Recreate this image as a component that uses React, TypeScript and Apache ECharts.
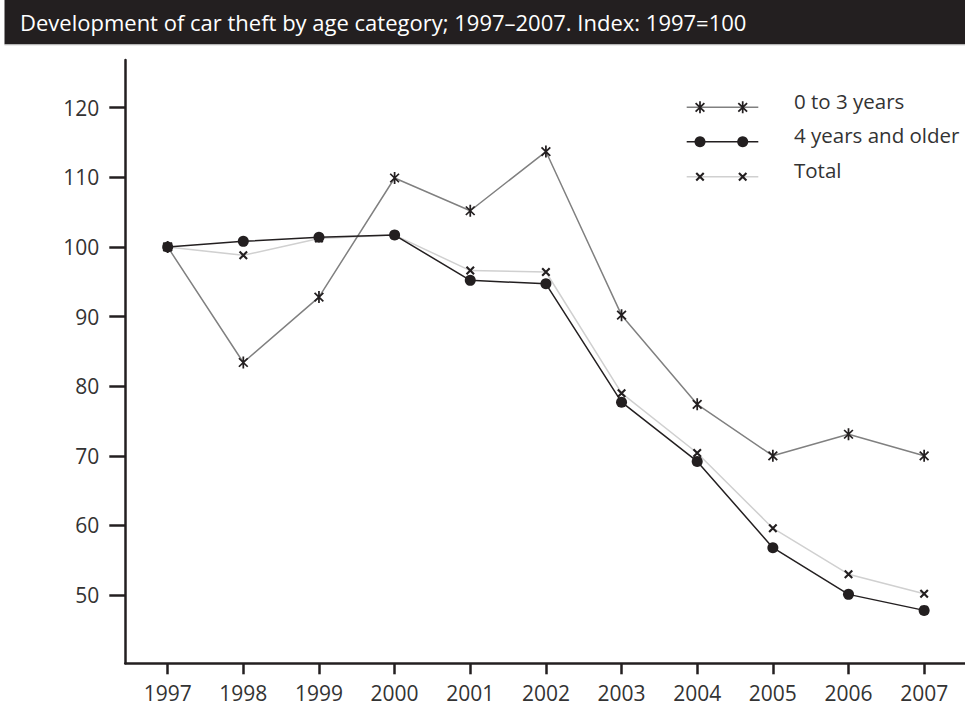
import React, { useEffect, useRef } from "react";
import * as echarts from "echarts";

const years = [1997, 1998, 1999, 2000, 2001, 2002, 2003, 2004, 2005, 2006, 2007];
const young = [100, 83.4, 92.8, 109.9, 105.2, 113.7, 90.2, 77.4, 70.0, 73.1, 70.0];
const older = [100, 100.8, 101.4, 101.7, 95.2, 94.7, 77.7, 69.2, 56.8, 50.1, 47.8];
const total = [100, 98.8, 101.2, 101.7, 96.6, 96.4, 79.0, 70.4, 59.6, 53.0, 50.2];
const yTicks = [50, 60, 70, 80, 90, 100, 110, 120];
const seriesNames = ["0 to 3 years", "4 years and older", "Total"];
const titleText = "Development of car theft by age category; 1997\u20132007. Index: 1997=100";

const STAR =
  "M43 0 L57 0 L57 100 L43 100 Z M19.59 9.69 L90.31 80.41 L80.41 90.31 L9.69 19.59 Z M90.31 19.59 L19.59 90.31 L9.69 80.41 L80.41 9.69 Z";
const CROSS =
  "M21.71 7.57 L92.43 78.29 L78.29 92.43 L7.57 21.71 Z M92.43 21.71 L21.71 92.43 L7.57 78.29 L78.29 7.57 Z";

const DARK = "#231f20";
const FONT = "'Open Sans', 'Noto Sans', sans-serif";

export default function App() {
  const ref = useRef<HTMLDivElement>(null);
  useEffect(() => {
    if (!ref.current) return;
    echarts.graphic.registerShape("legendStar", echarts.graphic.extendPath(STAR, {}));
    echarts.graphic.registerShape("legendCross", echarts.graphic.extendPath(CROSS, {}));
    const chart = echarts.init(ref.current, undefined, { renderer: "svg" });
    const pairs = (vals: number[]) => years.map((y, i) => [y, vals[i]]);

    const rowY = [107.3, 141.7, 176.7];
    const mx = [700, 742.7];
    const lineColors = ["#808080", DARK, "#d0d0d0"];
    const legendGraphics: any[] = [];
    rowY.forEach((y, r) => {
      legendGraphics.push({
        type: "line",
        z: 5,
        shape: { x1: 686.7, y1: y, x2: 758.3, y2: y },
        style: { stroke: lineColors[r], lineWidth: 1.5 },
        silent: true,
      });
      mx.forEach((x) => {
        if (r === 0) {
          const sx = 10 / 80.62, sy = 12 / 100;
          legendGraphics.push({ type: "legendStar", z: 6, x: x - 50 * sx, y: y - 50 * sy, scaleX: sx, scaleY: sy, style: { fill: DARK }, silent: true });
        } else if (r === 1) {
          legendGraphics.push({ type: "circle", z: 6, shape: { cx: x, cy: y, r: 5.5 }, style: { fill: DARK }, silent: true });
        } else {
          const s = 9 / 84.86;
          legendGraphics.push({ type: "legendCross", z: 6, x: x - 50 * s, y: y - 50 * s, scaleX: s, scaleY: s, style: { fill: DARK }, silent: true });
        }
      });
    });

    chart.setOption({
      animation: false,
      title: {
        text: titleText,
        left: 20,
        top: 9,
        padding: 0,
        textStyle: { color: "#ffffff", fontSize: 22, fontWeight: "normal", fontFamily: FONT, lineHeight: 26 },
        z: 10,
      },
      legend: {
        data: seriesNames,
        orient: "vertical",
        left: 779,
        top: 89,
        itemWidth: 10,
        itemHeight: 24,
        itemGap: 10.3,
        padding: 0,
        icon: "rect",
        itemStyle: { opacity: 0 },
        selectedMode: false,
        textStyle: { fontSize: 20.5, fontFamily: FONT, color: "#333333", lineHeight: 24 },
      },
      graphic: [
        { type: "rect", z: 1, shape: { x: 4.5, y: 0, width: 961, height: 44.3 }, style: { fill: DARK }, silent: true },
        { type: "rect", z: 1, shape: { x: 4.5, y: 44.3, width: 961, height: 1 }, style: { fill: "#b0b0b0" }, silent: true },
        ...legendGraphics,
      ],
      grid: { left: 125.3, right: 0, top: 60, bottom: 52.7, containLabel: false },
      xAxis: {
        type: "value",
        min: 1996.44,
        max: 2007.54,
        splitLine: { show: false },
        axisLine: { show: true, lineStyle: { color: DARK, width: 2.5 } },
        axisTick: { show: true, length: 11, customValues: years, lineStyle: { color: DARK, width: 2.5 } },
        axisLabel: {
          customValues: years,
          margin: 19,
          fontSize: 21,
          fontFamily: FONT,
          color: "#333333",
          formatter: (v: number) => String(v),
        },
      },
      yAxis: {
        type: "value",
        min: 40.2,
        max: 126.85,
        splitLine: { show: false },
        axisLine: { show: true, lineStyle: { color: DARK, width: 2.5 } },
        axisTick: { show: true, length: 16, customValues: yTicks, lineStyle: { color: DARK, width: 2.5 } },
        axisLabel: {
          customValues: yTicks,
          margin: 26,
          fontSize: 21,
          fontFamily: FONT,
          color: "#333333",
        },
      },
      series: [
        {
          name: seriesNames[2],
          type: "line",
          data: pairs(total),
          symbol: "path://" + CROSS,
          symbolSize: 9,
          lineStyle: { color: "#d0d0d0", width: 1.5 },
          itemStyle: { color: DARK },
          silent: true,
          z: 2,
        },
        {
          name: seriesNames[0],
          type: "line",
          data: pairs(young),
          symbol: "path://" + STAR,
          symbolSize: [10, 12],
          lineStyle: { color: "#808080", width: 1.5 },
          itemStyle: { color: DARK },
          silent: true,
          z: 3,
        },
        {
          name: seriesNames[1],
          type: "line",
          data: pairs(older),
          symbol: "circle",
          symbolSize: 11,
          lineStyle: { color: DARK, width: 1.5 },
          itemStyle: { color: DARK },
          silent: true,
          z: 4,
        },
      ],
    });
    return () => chart.dispose();
  }, []);
  return (
    <div
      ref={ref}
      style={{ position: "absolute", left: 0, top: 0, width: 965, height: 716, background: "#ffffff" }}
    />
  );
}
